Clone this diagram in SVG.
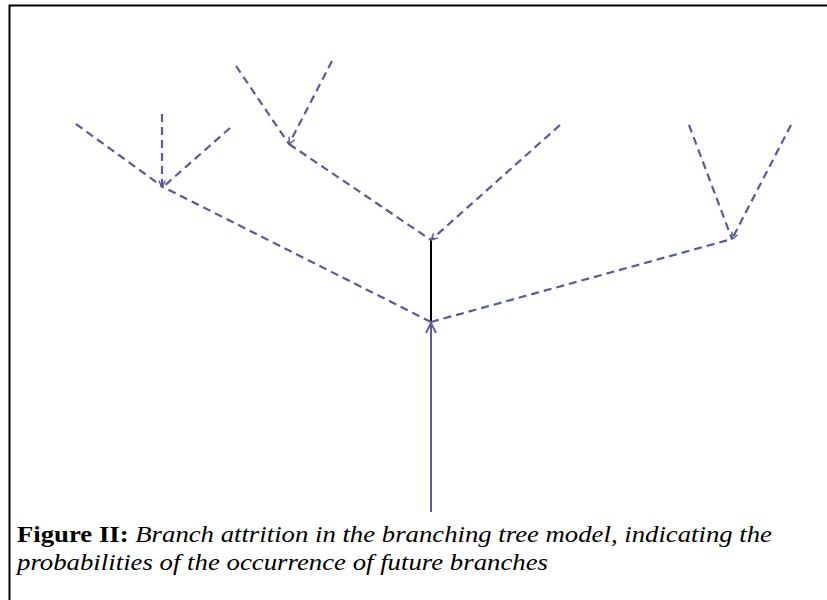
<svg xmlns="http://www.w3.org/2000/svg" width="827" height="600" viewBox="0 0 827 600">
<style>
.d{stroke:#5a5a96;stroke-width:2.2;stroke-dasharray:8 5;fill:none}
.s{stroke:#5a5a96;stroke-width:2;fill:none}
</style>
<defs>
<marker id="ah" viewBox="0 0 12 12" refX="11" refY="6" markerWidth="12" markerHeight="12" markerUnits="userSpaceOnUse" orient="auto">
<path d="M1,1 L11,6 L1,11" fill="none" stroke="#5a5a96" stroke-width="1.8"/>
</marker>
<marker id="as" viewBox="0 0 10 10" refX="9" refY="5" markerWidth="8" markerHeight="8" markerUnits="userSpaceOnUse" orient="auto">
<path d="M1,1 L9,5 L1,9" fill="none" stroke="#5a5a96" stroke-width="1.8"/>
</marker>
</defs>
<rect width="827" height="600" fill="#fff"/>
<path d="M9.5,600 V5.5 H827" fill="none" stroke="#000" stroke-width="2"/>
<g id="connectors">
<line class="s" x1="431" y1="512" x2="431" y2="323" marker-end="url(#ah)"/>
<line x1="431" y1="322" x2="431" y2="240" stroke="#000" stroke-width="2"/>
<line class="d" x1="431" y1="322" x2="163" y2="187"/>
<line class="d" x1="431" y1="322" x2="732" y2="239"/>
<line class="d" x1="560" y1="125" x2="431" y2="240" marker-end="url(#as)"/>
<line class="d" x1="289" y1="144" x2="431" y2="240"/>
<line class="d" x1="332" y1="61" x2="289" y2="144" marker-end="url(#as)"/>
<line class="d" x1="236" y1="66" x2="289" y2="144"/>
<line class="d" x1="76" y1="124" x2="163" y2="187"/>
<line class="d" x1="162" y1="114" x2="162" y2="187" marker-end="url(#as)"/>
<line class="d" x1="230" y1="128" x2="163" y2="187"/>
<line class="d" x1="689" y1="125" x2="732" y2="239"/>
<line class="d" x1="791" y1="125" x2="732" y2="239" marker-end="url(#as)"/>
</g>
<g id="caption">
<text x="17" y="542" font-family="Liberation Serif, serif" font-size="23" fill="#000" textLength="755" lengthAdjust="spacingAndGlyphs"><tspan font-weight="bold">Figure II:</tspan><tspan font-style="italic"> Branch attrition in the branching tree model, indicating the</tspan></text>
<text x="17" y="570" font-family="Liberation Serif, serif" font-size="23" fill="#000" font-style="italic" textLength="531" lengthAdjust="spacingAndGlyphs">probabilities of the occurrence of future branches</text>
</g>
</svg>
